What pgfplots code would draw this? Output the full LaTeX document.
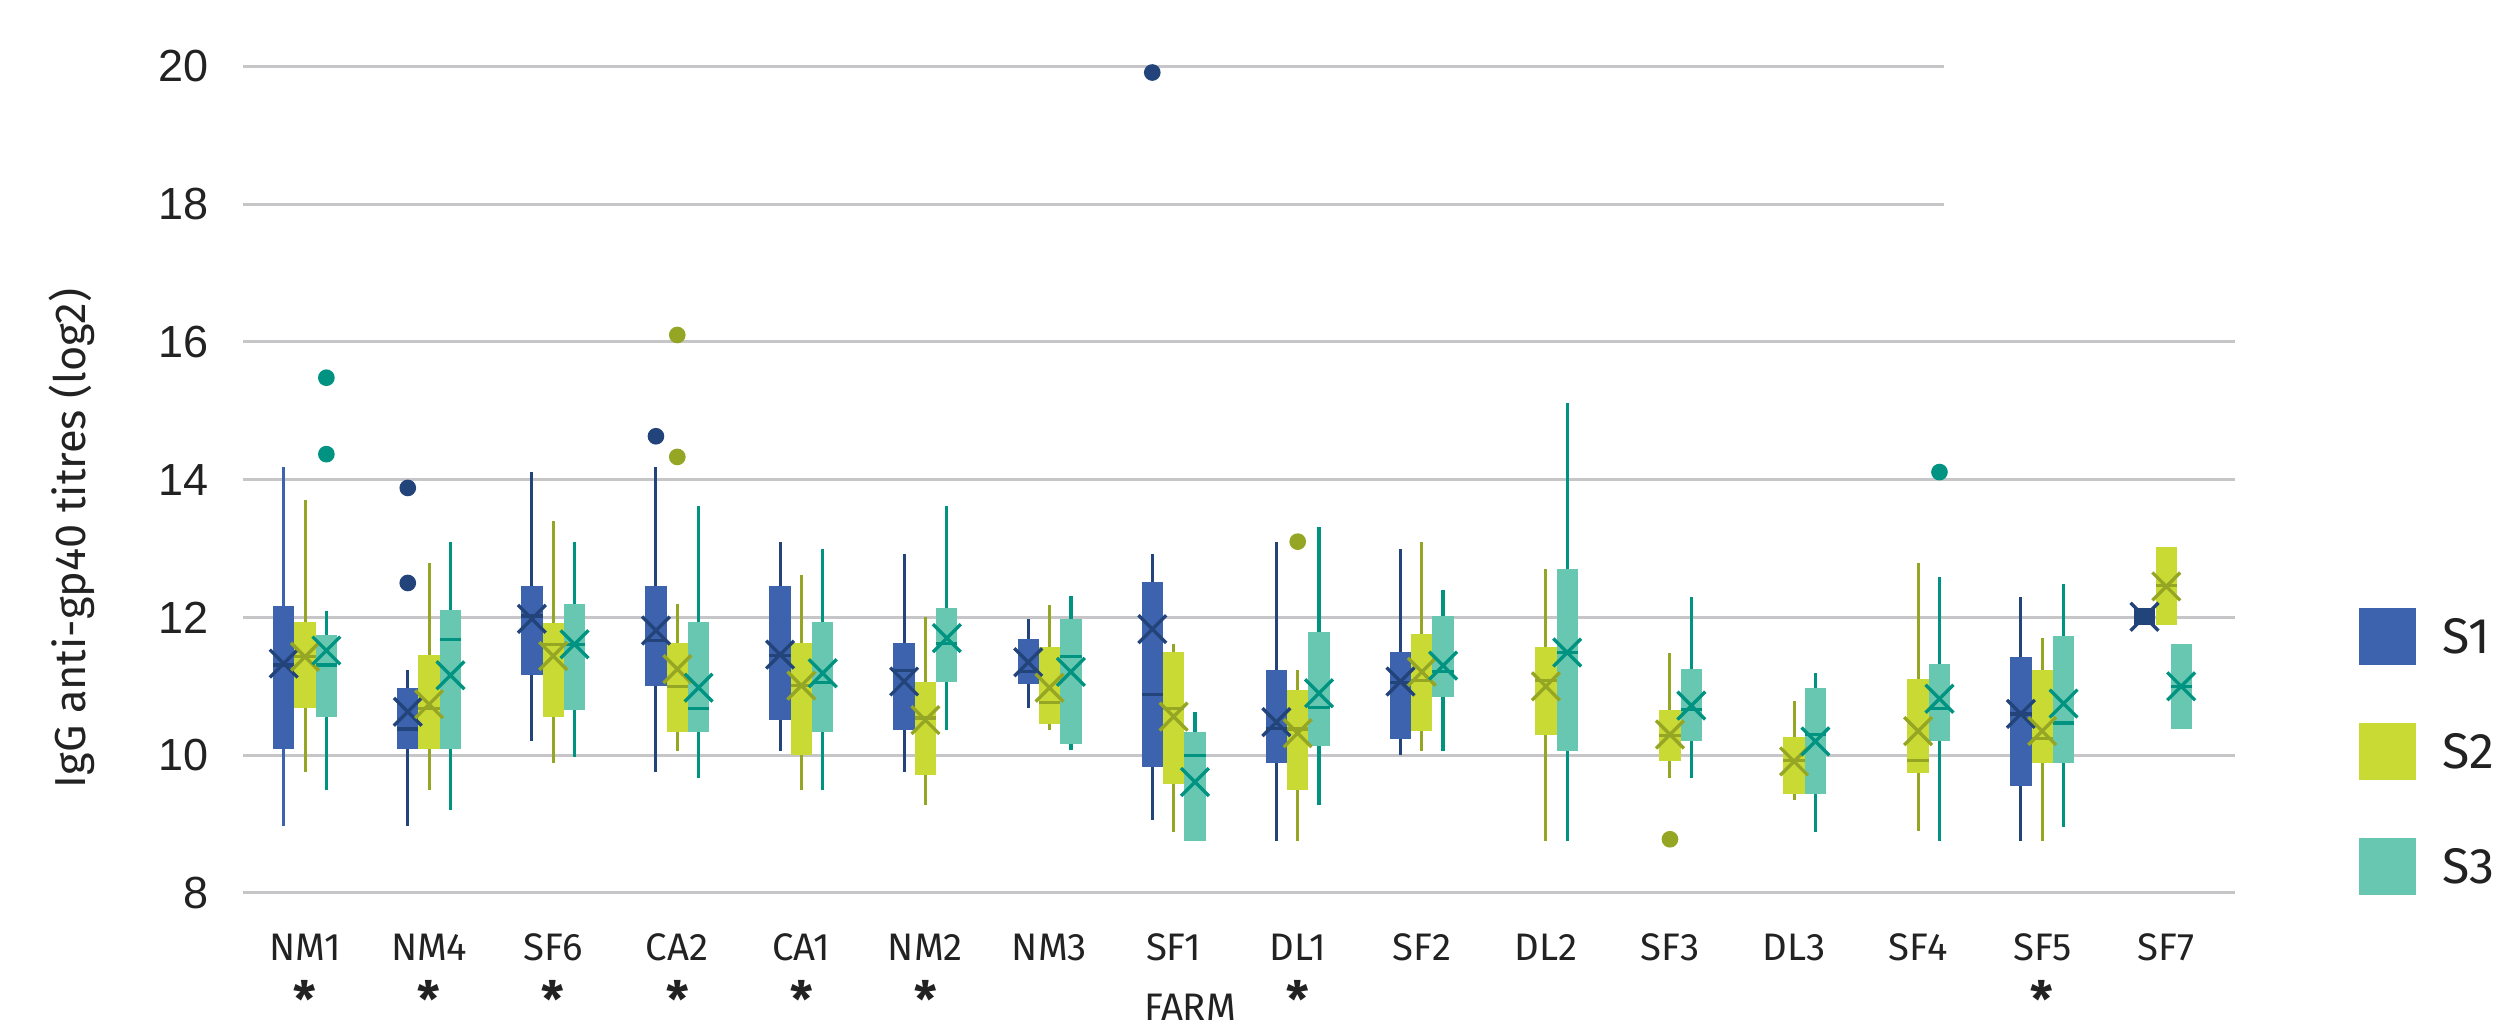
\documentclass[border=0pt]{standalone}
\usepackage{pgfplots}
\pgfplotsset{compat=1.18}
\usepgfplotslibrary{statistics}
\usepackage{fontspec}
\setmainfont{Fira Sans}
\newfontfamily\tickfont{Liberation Sans}

\definecolor{sOneF}{HTML}{3D63AE}
\definecolor{sOneL}{HTML}{22447A}
\definecolor{sTwoF}{HTML}{C9DA35}
\definecolor{sTwoL}{HTML}{95A524}
\definecolor{sThrF}{HTML}{68C7B0}
\definecolor{sThrL}{HTML}{009382}
\definecolor{gridc}{HTML}{C6C6C8}
\definecolor{txt}{HTML}{222222}

\pgfplotsset{
  bS1/.style={draw=sOneL, line width=0.9pt,
    boxplot/every box/.style={draw=none, fill=sOneF},
    boxplot/every median/.style={line width=1pt}},
  bS1b/.style={draw=sOneF, line width=0.9pt,
    boxplot/every box/.style={draw=none, fill=sOneF},
    boxplot/every median/.style={draw=sOneL, line width=1pt}},
  bS1d/.style={draw=sOneL, line width=0.9pt,
    boxplot/every box/.style={draw=none, fill=sOneL},
    boxplot/every median/.style={line width=1pt}},
  bS2/.style={draw=sTwoL, line width=0.9pt,
    boxplot/every box/.style={draw=none, fill=sTwoF},
    boxplot/every median/.style={line width=1pt}},
  bS3/.style={draw=sThrL, line width=1pt,
    boxplot/every box/.style={draw=none, fill=sThrF},
    boxplot/every median/.style={line width=1pt}},
  meanmark/.style={only marks, mark=x, mark size=5.9pt, line width=1pt,
    mark options={draw=#1, line width=1pt}},
}

% #1 style, #2 position, #3 lower whisker, #4 Q1, #5 median, #6 Q3, #7 upper whisker
\newcommand{\bx}[7]{\addplot[#1, boxplot prepared={draw position=#2, lower whisker=#3, lower quartile=#4, median=#5, upper quartile=#6, upper whisker=#7}] coordinates {};}
\newcommand{\st}{{\fontsize{15}{16}\selectfont\bfseries *}}

\begin{document}
\begin{tikzpicture}
\begin{axis}[
  at={(0,0)}, anchor=south west,
  scale only axis, width=595.6pt, height=248pt,
  xmin=-0.5, xmax=15.5, ymin=8, ymax=20,
  clip=false,
  axis line style={draw=none},
  major tick length=0pt,
  ytick={8,10,...,20},
  xtick={0,...,15},
  xticklabels={{NM1\\[3pt]\st},{NM4\\[3pt]\st},{SF6\\[3pt]\st},{CA2\\[3pt]\st},{CA1\\[3pt]\st},{NM2\\[3pt]\st},NM3,SF1,{DL1\\[3pt]\st},SF2,DL2,SF3,DL3,SF4,{SF5\\[3pt]\st},SF7},
  xticklabel style={font=\fontsize{11.5}{14}\selectfont, align=center, yshift=-8.8pt, text=txt},
  yticklabel style={font=\tickfont\fontsize{13.5}{16}\selectfont, xshift=-6.9pt, text=txt},
  /pgf/number format/assume math mode=true,
  ylabel={IgG anti-gp40 titres (log2)},
  ylabel style={at={(axis description cs:-0.0861,0.429)}, anchor=center, font=\fontsize{13}{15}\selectfont, text=txt},
  xlabel={FARM},
  xlabel style={at={(axis description cs:0.477,0)}, anchor=north, yshift=-26.8pt, font=\fontsize{11.5}{14}\selectfont, text=txt},
  boxplot/draw direction=y,
  boxplot/box extend=0.172,
  boxplot/whisker extend=0,
]
% grid lines
\draw[gridc, line width=0.9pt] (axis cs:-0.5,8) -- (axis cs:15.55,8);
\draw[gridc, line width=0.9pt] (axis cs:-0.5,10) -- (axis cs:15.55,10);
\draw[gridc, line width=0.9pt] (axis cs:-0.5,12) -- (axis cs:15.55,12);
\draw[gridc, line width=0.9pt] (axis cs:-0.5,14) -- (axis cs:15.55,14);
\draw[gridc, line width=0.9pt] (axis cs:-0.5,16) -- (axis cs:15.55,16);
\draw[gridc, line width=0.9pt] (axis cs:-0.5,18) -- (axis cs:13.21,18);
\draw[gridc, line width=0.9pt] (axis cs:-0.5,20) -- (axis cs:13.21,20);

% ---- S1 ----
\bx{bS1b}{-0.172}{8.97}{10.09}{11.31}{12.16}{14.18}
\bx{bS1}{0.828}{8.97}{10.09}{10.38}{10.97}{11.23}
\bx{bS1}{1.828}{10.21}{11.17}{12.02}{12.45}{14.11}
\bx{bS1}{2.828}{9.76}{11.01}{11.67}{12.45}{14.18}
\bx{bS1}{3.828}{10.06}{10.51}{11.45}{12.45}{13.10}
\bx{bS1}{4.828}{9.76}{10.36}{11.23}{11.63}{12.92}
\bx{bS1}{5.828}{10.69}{11.03}{11.22}{11.68}{11.98}
\bx{bS1}{6.828}{9.06}{9.83}{10.88}{12.51}{12.92}
\bx{bS1}{7.828}{8.75}{9.88}{10.39}{11.24}{13.10}
\bx{bS1}{8.828}{10.00}{10.23}{11.06}{11.50}{13.00}
\bx{bS1}{13.828}{8.76}{9.56}{10.60}{11.42}{12.30}
\bx{bS1d}{14.824}{11.89}{11.89}{12.01}{12.14}{12.14}

% ---- S2 ----
\bx{bS2}{0}{9.76}{10.68}{11.43}{11.93}{13.70}
\bx{bS2}{1}{9.50}{10.09}{10.68}{11.45}{12.79}
\bx{bS2}{2}{9.88}{10.56}{11.61}{11.92}{13.40}
\bx{bS2}{3}{10.06}{10.33}{11.00}{11.63}{12.19}
\bx{bS2}{4}{9.50}{10.00}{11.01}{11.63}{12.61}
\bx{bS2}{5}{9.28}{9.71}{10.54}{11.06}{12.00}
\bx{bS2}{6}{10.36}{10.45}{10.77}{11.57}{12.18}
\bx{bS2}{7}{8.88}{9.58}{10.68}{11.50}{11.62}
\bx{bS2}{8}{8.75}{9.49}{10.38}{10.94}{11.24}
\bx{bS2}{9}{10.06}{10.35}{11.08}{11.76}{13.09}
\bx{bS2}{10}{8.75}{10.29}{11.08}{11.57}{12.70}
\bx{bS2}{11}{9.67}{9.92}{10.29}{10.66}{11.48}
\bx{bS2}{12}{9.35}{9.44}{9.92}{10.27}{10.78}
\bx{bS2}{13}{8.90}{9.74}{9.92}{11.11}{12.79}
\bx{bS2}{14}{8.76}{9.88}{10.24}{11.24}{11.70}
\bx{bS2}{15}{11.89}{11.89}{12.46}{13.02}{13.02}

% ---- S3 ----
\bx{bS3}{0.172}{9.50}{10.56}{11.31}{11.74}{12.10}
\bx{bS3}{1.172}{9.20}{10.09}{11.68}{12.11}{13.10}
\bx{bS3}{2.172}{9.98}{10.66}{11.61}{12.19}{13.10}
\bx{bS3}{3.172}{9.67}{10.33}{10.68}{11.93}{13.62}
\bx{bS3}{4.172}{9.50}{10.33}{11.06}{11.93}{13.00}
\bx{bS3}{5.172}{10.36}{11.06}{11.62}{12.13}{13.62}
\bx{bS3}{6.172}{10.08}{10.17}{11.43}{11.98}{12.31}
\bx{bS3}{7.172}{8.75}{8.75}{10.00}{10.33}{10.63}
\bx{bS3}{8.172}{9.28}{10.14}{10.69}{11.79}{13.31}
\bx{bS3}{9.172}{10.06}{10.84}{11.22}{12.02}{12.40}
\bx{bS3}{10.172}{8.75}{10.06}{11.49}{12.70}{15.11}
\bx{bS3}{11.172}{9.67}{10.20}{10.66}{11.25}{12.30}
\bx{bS3}{12.172}{8.88}{9.44}{10.30}{10.97}{11.20}
\bx{bS3}{13.172}{8.76}{10.20}{10.68}{11.32}{12.59}
\bx{bS3}{14.172}{8.96}{9.88}{10.47}{11.73}{12.49}
\bx{bS3}{15.12}{10.38}{10.38}{11.00}{11.62}{11.62}

% ---- outliers ----
\addplot[only marks, mark=*, mark size=2.3pt, color=sOneL] coordinates {
  (0.828,13.88) (0.828,12.50) (2.828,14.63) (6.828,19.91)};
\addplot[only marks, mark=*, mark size=2.3pt, color=sTwoL] coordinates {
  (3,16.10) (3,14.33) (8,13.10) (11,8.78)};
\addplot[only marks, mark=*, mark size=2.3pt, color=sThrL] coordinates {
  (0.172,15.48) (0.172,14.37) (13.172,14.11)};

% ---- means ----
\addplot[meanmark=sOneL] coordinates {
  (-0.172,11.33) (0.828,10.63) (1.828,11.98) (2.828,11.81) (3.828,11.46) (4.828,11.07)
  (5.828,11.35) (6.828,11.83) (7.828,10.48) (8.828,11.07) (13.828,10.60) (14.824,12.01)};
\addplot[meanmark=sTwoL] coordinates {
  (0,11.43) (1,10.74) (2,11.44) (3,11.25) (4,11.01) (5,10.51) (6,10.98) (7,10.56)
  (8,10.32) (9,11.21) (10,11.00) (11,10.30) (12,9.91) (13,10.35) (14,10.35) (15,12.45)};
\addplot[meanmark=sThrL] coordinates {
  (0.172,11.52) (1.172,11.16) (2.172,11.61) (3.172,10.98) (4.172,11.19) (5.172,11.70)
  (6.172,11.21) (7.172,9.61) (8.172,10.90) (9.172,11.30) (10.172,11.49) (11.172,10.72)
  (12.172,10.20) (13.172,10.82) (14.172,10.75) (15.12,11.00)};
\end{axis}

% legend
\fill[sOneF] (634.8pt,68.5pt) rectangle (651.9pt,85.6pt);
\fill[sTwoF] (634.8pt,33.9pt) rectangle (651.9pt,51.0pt);
\fill[sThrF] (634.8pt,-0.6pt) rectangle (651.9pt,16.6pt);
\node[anchor=west, inner sep=0pt, font=\fontsize{15}{18}\selectfont, text=txt] at (659.6pt,77.05pt) {S1};
\node[anchor=west, inner sep=0pt, font=\fontsize{15}{18}\selectfont, text=txt] at (659.6pt,42.45pt) {S2};
\node[anchor=west, inner sep=0pt, font=\fontsize{15}{18}\selectfont, text=txt] at (659.6pt,8.0pt) {S3};

\pgfresetboundingbox
\path[use as bounding box] (-72.9pt,-41.7pt) rectangle (676.5pt,267.9pt);
\end{tikzpicture}
\end{document}
